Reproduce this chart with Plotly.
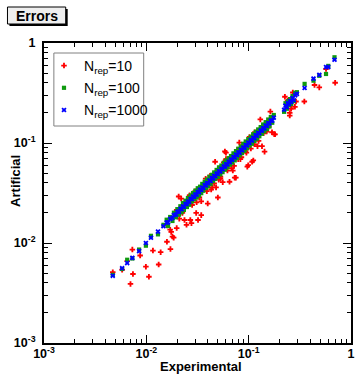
import plotly.graph_objects as go

# ---------------- data ----------------
# experimental errors shared by the Nrep=100 and Nrep=1000 series
exp_bg = [
    0.0047, 0.0058, 0.0065, 0.0073, 0.0085, 0.0099, 0.0111, 0.0130, 0.0147, 0.0158,
    0.0163, 0.0171, 0.0180, 0.0186, 0.0195, 0.0201, 0.0208, 0.0215, 0.0221, 0.0228,
    0.0233, 0.0241, 0.0249, 0.0255, 0.0262, 0.0270, 0.0279, 0.0286, 0.0294, 0.0301,
    0.0310, 0.0318, 0.0327, 0.0335, 0.0344, 0.0352, 0.0361, 0.0372, 0.0383, 0.0391,
    0.0402, 0.0414, 0.0425, 0.0437, 0.0449, 0.0460, 0.0472, 0.0486, 0.0499, 0.0513,
    0.0528, 0.0541, 0.0556, 0.0572, 0.0588, 0.0603, 0.0621, 0.0638, 0.0655, 0.0672,
    0.0691, 0.0710, 0.0731, 0.0752, 0.0770, 0.0793, 0.0815, 0.0838, 0.0862, 0.0885,
    0.0910, 0.0936, 0.0963, 0.0990, 0.1018, 0.1046, 0.1075, 0.1106, 0.1138, 0.1170,
    0.1203, 0.1238, 0.1272, 0.1310, 0.1347, 0.1385, 0.1425, 0.1466, 0.1508, 0.1552,
    0.1597, 0.1645, 0.1700, 0.1760, 0.222, 0.229, 0.236, 0.242, 0.248, 0.254,
    0.261, 0.268, 0.276, 0.285, 0.296, 0.352, 0.430, 0.490, 0.570, 0.600,
    0.690,
]
art_1000 = [
    0.0047, 0.0056, 0.0063, 0.0071, 0.0083, 0.0100, 0.0113, 0.0130, 0.0147, 0.0160,
    0.0161, 0.0174, 0.0178, 0.0190, 0.0192, 0.0205, 0.0206, 0.0219, 0.0218, 0.0232,
    0.0230, 0.0245, 0.0246, 0.0260, 0.0258, 0.0275, 0.0276, 0.0291, 0.0290, 0.0306,
    0.0305, 0.0324, 0.0322, 0.0341, 0.0339, 0.0359, 0.0355, 0.0379, 0.0377, 0.0398,
    0.0396, 0.0422, 0.0418, 0.0445, 0.0442, 0.0469, 0.0465, 0.0495, 0.0491, 0.0523,
    0.0520, 0.0551, 0.0547, 0.0583, 0.0579, 0.0614, 0.0611, 0.0650, 0.0645, 0.0685,
    0.0680, 0.0724, 0.0719, 0.0766, 0.0758, 0.0808, 0.0802, 0.0854, 0.0848, 0.0902,
    0.0896, 0.0954, 0.0948, 0.1009, 0.1002, 0.1066, 0.1058, 0.1127, 0.1120, 0.1192,
    0.1184, 0.1262, 0.1252, 0.1335, 0.1326, 0.1411, 0.1402, 0.1494, 0.1484, 0.1582,
    0.1572, 0.1676, 0.1673, 0.1794, 0.215, 0.236, 0.228, 0.250, 0.246, 0.262,
    0.257, 0.281, 0.268, 0.300, 0.310, 0.355, 0.440, 0.480, 0.575, 0.575,
    0.680,
]
art_100 = [
    0.0048, 0.0055, 0.0068, 0.0070, 0.0086, 0.0094, 0.0118, 0.0122, 0.0152, 0.0171,
    0.0148, 0.0182, 0.0166, 0.0201, 0.0181, 0.0218, 0.0192, 0.0233, 0.0203, 0.0251,
    0.0214, 0.0265, 0.0229, 0.0282, 0.0241, 0.0299, 0.0260, 0.0316, 0.0273, 0.0334,
    0.0285, 0.0353, 0.0298, 0.0366, 0.0315, 0.0390, 0.0333, 0.0410, 0.0354, 0.0432,
    0.0369, 0.0460, 0.0389, 0.0481, 0.0416, 0.0508, 0.0437, 0.0538, 0.0458, 0.0571,
    0.0485, 0.0595, 0.0511, 0.0634, 0.0541, 0.0670, 0.0570, 0.0705, 0.0606, 0.0741,
    0.0635, 0.0788, 0.0670, 0.0830, 0.0705, 0.0877, 0.0750, 0.0923, 0.0793, 0.0982,
    0.0837, 0.1036, 0.0885, 0.1092, 0.0939, 0.1152, 0.0982, 0.1223, 0.1045, 0.1296,
    0.1104, 0.1367, 0.1168, 0.1443, 0.1236, 0.1531, 0.1307, 0.1615, 0.1378, 0.1718,
    0.1463, 0.1818, 0.1594, 0.1905, 0.205, 0.250, 0.220, 0.262, 0.238, 0.275,
    0.246, 0.295, 0.262, 0.318, 0.322, 0.390, 0.420, 0.470, 0.490, 0.590,
    0.720,
]
# Nrep=10 series
exp_10 = [
    0.0047, 0.0058, 0.0065, 0.0070, 0.0073, 0.0074, 0.0087, 0.0099, 0.0106, 0.0116,
    0.0132, 0.0138, 0.0159, 0.0172, 0.0175, 0.0180, 0.0171, 0.0198, 0.0185, 0.0207,
    0.0219, 0.0236, 0.0247, 0.0269, 0.0276, 0.0307, 0.0320, 0.0344, 0.0344, 0.0398,
    0.0430, 0.0500, 0.0558, 0.0586, 0.0600, 0.0810, 0.0914, 0.0970, 0.1080, 0.1140,
    0.1220, 0.1350, 0.1430, 0.1300, 0.1690, 0.1810, 0.0470, 0.0650, 0.0730, 0.0700,
    0.0530, 0.0480, 0.1630, 0.1780, 0.1110, 0.0990, 0.0750, 0.2260, 0.2700, 0.2360,
    0.3500, 0.2520, 0.2520, 0.2830, 0.7000, 0.4900, 0.4400, 0.5700, 0.0160, 0.0190,
    0.0225, 0.0250, 0.0280, 0.0300, 0.0330, 0.0360, 0.0390, 0.0420, 0.0460, 0.0490,
    0.0530, 0.0570, 0.0620, 0.0660, 0.0720, 0.0770, 0.0830, 0.0880, 0.0950, 0.1020,
    0.1050, 0.1150, 0.1250, 0.1400, 0.1500, 0.1570, 0.2400, 0.2600, 0.2900, 0.0210,
    0.0265, 0.0310, 0.0380, 0.0440, 0.0510, 0.0600, 0.0680, 0.0790, 0.0850, 0.0930,
]
art_10 = [
    0.0051, 0.0054, 0.0066, 0.0039, 0.0086, 0.0049, 0.0075, 0.0058, 0.0046, 0.0084,
    0.0061, 0.0081, 0.0103, 0.0087, 0.0129, 0.0116, 0.0136, 0.0141, 0.0113, 0.0292,
    0.0278, 0.0170, 0.0152, 0.0170, 0.0158, 0.0200, 0.0170, 0.0190, 0.0261, 0.0248,
    0.0343, 0.0285, 0.0406, 0.0822, 0.0800, 0.1010, 0.0966, 0.0580, 0.0650, 0.0970,
    0.0930, 0.0930, 0.0820, 0.1720, 0.1280, 0.1220, 0.0650, 0.0410, 0.0450, 0.0530,
    0.0460, 0.0360, 0.2060, 0.1220, 0.0670, 0.0600, 0.0450, 0.2900, 0.3200, 0.2500,
    0.2600, 0.1880, 0.2000, 0.2300, 0.4000, 0.3600, 0.3800, 0.5500, 0.0150, 0.0205,
    0.0200, 0.0262, 0.0240, 0.0330, 0.0285, 0.0370, 0.0330, 0.0470, 0.0395, 0.0520,
    0.0440, 0.0640, 0.0530, 0.0720, 0.0590, 0.0850, 0.0690, 0.0950, 0.0800, 0.1150,
    0.0880, 0.1280, 0.1050, 0.1250, 0.1300, 0.1450, 0.2650, 0.2200, 0.2600, 0.0175,
    0.0300, 0.0255, 0.0440, 0.0360, 0.0430, 0.0690, 0.0560, 0.0690, 0.0720, 0.0830,
]

series_names = ["N<sub>rep</sub>=10", "N<sub>rep</sub>=100", "N<sub>rep</sub>=1000"]
tick_vals = [0.001, 0.01, 0.1, 1]
tick_text = ["10<sup>-3</sup>", "10<sup>-2</sup>", "10<sup>-1</sup>", "1"]
minor_vals = [k * 10.0 ** e for e in (-3, -2, -1) for k in range(2, 10)]

# ---------------- geometry ----------------
W, H = 359, 377
L, R, T, B = 44, 4, 43, 34
PW, PH = W - L - R, H - T - B


def px(x):
    return (x - L) / PW


def py(y):
    return (H - B - y) / PH


FONT = "Liberation Sans, Arial, Helvetica, sans-serif"

fig = go.Figure()
fig.add_trace(go.Scatter(
    x=exp_10, y=art_10, mode="markers", name=series_names[0], legendgroup="a",
    marker=dict(symbol="cross", size=4.6, color="#ff0000", line=dict(width=0)),
))
fig.add_trace(go.Scatter(
    x=exp_bg, y=art_100, mode="markers", name=series_names[1], legendgroup="b",
    marker=dict(symbol="square", size=4.2, color="#0f9a0f", line=dict(width=0)),
))
fig.add_trace(go.Scatter(
    x=exp_bg, y=art_1000, mode="markers", name=series_names[2], legendgroup="c",
    marker=dict(symbol="x", size=4.6, color="#0000ff", line=dict(width=0)),
))

axis_common = dict(
    type="log", range=[-3, 0], showgrid=False, zeroline=False,
    showline=True, linecolor="black", linewidth=2, mirror="allticks",
    ticks="inside", ticklen=8, tickwidth=1, tickcolor="black",
    tickmode="array", tickvals=tick_vals, ticktext=tick_text,
    tickfont=dict(family=FONT, size=12.5, color="black", weight="bold"),
    minor=dict(ticks="inside", ticklen=4, tickwidth=1, tickcolor="black",
               tickmode="array", tickvals=minor_vals, showgrid=False),
)
fig.update_xaxes(**axis_common, ticklabelstandoff=-2)
fig.update_yaxes(**axis_common, ticklabelstandoff=4)

fig.update_layout(
    width=W, height=H,
    margin=dict(l=L, r=R, t=T, b=B, pad=0),
    plot_bgcolor="white", paper_bgcolor="white",
    font=dict(family=FONT, color="black"),
    showlegend=True,
    legend=dict(
        x=0, y=py(50), xanchor="left", yanchor="top",
        bgcolor="rgba(0,0,0,0)", borderwidth=0,
        font=dict(family=FONT, size=14, color="black"),
        traceorder="grouped", tracegroupgap=1, itemwidth=30,
    ),
    shapes=[
        # legend frame
        dict(type="rect", xref="paper", yref="paper",
             x0=px(54), x1=px(145), y0=py(126), y1=py(53),
             fillcolor="white", line=dict(color="#808080", width=1), layer="above"),
        # title box shadow and box
        dict(type="rect", xref="paper", yref="paper",
             x0=px(9), x1=px(68), y0=py(26), y1=py(9),
             fillcolor="black", line=dict(width=0), layer="above"),
        dict(type="rect", xref="paper", yref="paper",
             x0=px(7), x1=px(66), y0=py(24), y1=py(7),
             fillcolor="#eeeeee", line=dict(color="black", width=1), layer="above"),
    ],
    annotations=[
        dict(text="<b>Errors</b>", xref="paper", yref="paper",
             x=px(36.5), y=py(15.5), xanchor="center", yanchor="middle",
             showarrow=False, font=dict(family=FONT, size=14, color="black")),
        dict(text="<b>Experimental</b>", xref="paper", yref="paper",
             x=px(203), y=py(366), xanchor="center", yanchor="middle",
             showarrow=False, font=dict(family=FONT, size=13, color="black")),
        dict(text="<b>Artificial</b>", xref="paper", yref="paper",
             x=px(14.5), y=py(181), xanchor="center", yanchor="middle",
             textangle=-90, showarrow=False,
             font=dict(family=FONT, size=13, color="black")),
    ],
)

fig.write_html("out.html", config={"displayModeBar": False},
               post_script="document.body.style.margin='0px';")
